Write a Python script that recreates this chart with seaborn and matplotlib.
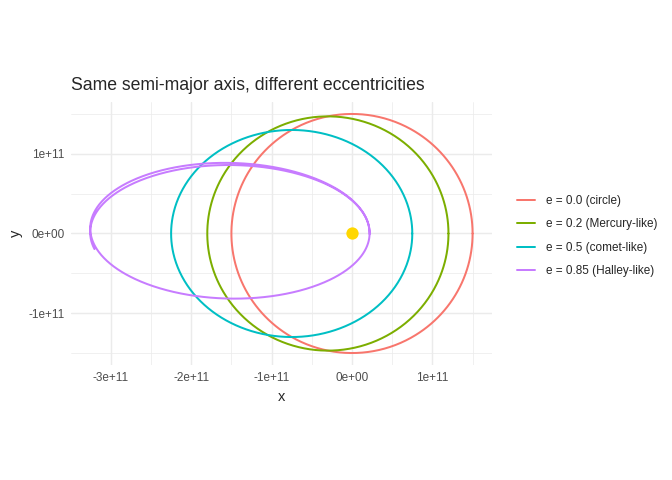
import numpy as np
import pandas as pd
import matplotlib
matplotlib.use("Agg")
import matplotlib.pyplot as plt
from matplotlib.ticker import MultipleLocator, FuncFormatter
import seaborn as sns

# --- Orbit data ---
orbit_labels = ["e = 0.0 (circle)", "e = 0.2 (Mercury-like)",
                "e = 0.5 (comet-like)", "e = 0.85 (Halley-like)"]
semi_major = [1.5e11, 1.5e11, 1.5e11, 1.738e11]      # metres, as traced
eccentricity = [0.0, 0.2, 0.5, 0.874]               # effective, as traced
turns = [1.0, 1.0, 1.0, 1.54]                       # how far each track runs
start_tilt_deg = [0.0, 0.0, 0.0, -1.8]
precession_deg = [0.0, 0.0, 0.0, 1.0]               # drift per turn
palette = ["#F8766D", "#7CAE00", "#00BFC4", "#C77CFF"]

sun_x = [0.0]
sun_y = [0.0]

# --- Build the tracks (focus / sun at the origin) ---
frames = []
for lab, a, e, t, tilt, prec in zip(orbit_labels, semi_major, eccentricity,
                                    turns, start_tilt_deg, precession_deg):
    E = np.linspace(0, 2 * np.pi * t, int(800 * t))
    b = a * np.sqrt(1 - e ** 2)
    x0 = a * (np.cos(E) - e)
    y0 = b * np.sin(E)
    phi = np.deg2rad(tilt + prec * E / (2 * np.pi))
    frames.append(pd.DataFrame({
        "x": x0 * np.cos(phi) - y0 * np.sin(phi),
        "y": x0 * np.sin(phi) + y0 * np.cos(phi),
        "orbit": lab,
    }))
df = pd.concat(frames, ignore_index=True)

# --- Plot ---
sns.set_theme(style="white")
plt.rcParams["font.family"] = ["Liberation Sans", "DejaVu Sans"]

fig = plt.figure(figsize=(7, 5), dpi=96)
ax = fig.add_axes([0.1057, 0.2396, 0.626, 0.5479])

sns.lineplot(data=df, x="x", y="y", hue="orbit", hue_order=orbit_labels,
             palette=palette, sort=False, estimator=None, linewidth=1.5,
             ax=ax)
ax.scatter(sun_x, sun_y, s=85, color="#FFD700", zorder=5, linewidths=0)

# limits with ggplot-like 5% expansion
xr = df["x"].max() - df["x"].min()
yr = df["y"].max() - df["y"].min()
ax.set_xlim(df["x"].min() - 0.05 * xr, df["x"].max() + 0.05 * xr)
ax.set_ylim(df["y"].min() - 0.05 * yr, df["y"].max() + 0.05 * yr)

ax.xaxis.set_major_locator(MultipleLocator(1e11))
ax.xaxis.set_minor_locator(MultipleLocator(0.5e11))
ax.yaxis.set_major_locator(MultipleLocator(1e11))
ax.yaxis.set_minor_locator(MultipleLocator(0.5e11))
fmt = FuncFormatter(lambda v, p: f"{v:.0e}")
ax.xaxis.set_major_formatter(fmt)
ax.yaxis.set_major_formatter(fmt)
ax.grid(which="major", color="#EBEBEB", linewidth=1.07)
ax.grid(which="minor", color="#EBEBEB", linewidth=0.55)
ax.set_axisbelow(True)
for s in ax.spines.values():
    s.set_visible(False)
ax.tick_params(which="both", length=0, labelsize=8.8, labelcolor="#4D4D4D",
               pad=5)

ax.set_xlabel("x", fontsize=11, labelpad=5)
ax.set_ylabel("y", fontsize=11, labelpad=4)
ax.set_title("Same semi-major axis, different eccentricities",
             loc="left", fontsize=13.2, pad=9)

ax.legend(loc="center left", bbox_to_anchor=(0.753, 0.508),
          bbox_transform=fig.transFigure, frameon=False, fontsize=8.8,
          handlelength=1.55, handletextpad=0.95, labelspacing=0.98,
          title=None)

fig.savefig("out.png", dpi=96)
